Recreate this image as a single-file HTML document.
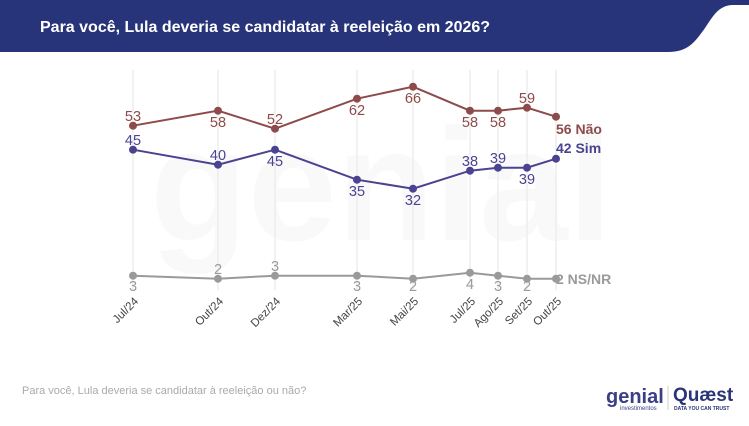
<!DOCTYPE html>
<html><head><meta charset="utf-8"><style>
body{margin:0;width:749px;height:421px;background:#fff;overflow:hidden;font-family:"Liberation Sans",sans-serif}
</style></head><body>
<svg width="749" height="421" xmlns="http://www.w3.org/2000/svg" font-family="Liberation Sans, sans-serif">
<path d="M0 0 H749 V5 H733 C718 5 712 18 705 28 C695 42 688 52 668 52 H0 Z" fill="#28347a"/>
<text x="40" y="32" fill="#fff" font-size="16" font-weight="bold">Para você, Lula deveria se candidatar à reeleição em 2026?</text>
<text x="150" y="240" font-size="160" font-weight="bold" fill="#f9f9f9">genial</text>
<g stroke="#e6e6e6" stroke-width="1">
<line x1="133" y1="70" x2="133" y2="290"/><line x1="218" y1="70" x2="218" y2="290"/><line x1="275" y1="70" x2="275" y2="290"/><line x1="357" y1="70" x2="357" y2="290"/><line x1="413" y1="70" x2="413" y2="290"/><line x1="470" y1="70" x2="470" y2="290"/><line x1="498" y1="70" x2="498" y2="290"/><line x1="527" y1="70" x2="527" y2="290"/><line x1="556" y1="70" x2="556" y2="290"/>
</g>
<g fill="none" stroke-width="2">
<polyline stroke="#8e4b4b" points="133,125.7 218,110.7 275,128.7 357,98.7 413,86.7 470,110.7 498,110.7 527,107.7 556,116.7"/>
<polyline stroke="#4a4391" points="133,149.7 218,164.7 275,149.7 357,179.7 413,188.7 470,170.7 498,167.7 527,167.7 556,158.7"/>
<polyline stroke="#9a9a9a" points="133,275.7 218,278.7 275,275.7 357,275.7 413,278.7 470,272.7 498,275.7 527,278.7 556,278.7"/>
</g>
<g fill="#8e4b4b"><circle cx="133" cy="125.7" r="4"/><circle cx="218" cy="110.7" r="4"/><circle cx="275" cy="128.7" r="4"/><circle cx="357" cy="98.7" r="4"/><circle cx="413" cy="86.7" r="4"/><circle cx="470" cy="110.7" r="4"/><circle cx="498" cy="110.7" r="4"/><circle cx="527" cy="107.7" r="4"/><circle cx="556" cy="116.7" r="4"/></g>
<g fill="#4a4391"><circle cx="133" cy="149.7" r="4"/><circle cx="218" cy="164.7" r="4"/><circle cx="275" cy="149.7" r="4"/><circle cx="357" cy="179.7" r="4"/><circle cx="413" cy="188.7" r="4"/><circle cx="470" cy="170.7" r="4"/><circle cx="498" cy="167.7" r="4"/><circle cx="527" cy="167.7" r="4"/><circle cx="556" cy="158.7" r="4"/></g>
<g fill="#9a9a9a"><circle cx="133" cy="275.7" r="4"/><circle cx="218" cy="278.7" r="4"/><circle cx="275" cy="275.7" r="4"/><circle cx="357" cy="275.7" r="4"/><circle cx="413" cy="278.7" r="4"/><circle cx="470" cy="272.7" r="4"/><circle cx="498" cy="275.7" r="4"/><circle cx="527" cy="278.7" r="4"/><circle cx="556" cy="278.7" r="4"/></g>
<g font-size="14.5" text-anchor="middle" fill="#8e4b4b">
<text x="133" y="121">53</text><text x="218" y="127">58</text><text x="275" y="124">52</text><text x="357" y="115">62</text><text x="413" y="103">66</text><text x="470" y="127">58</text><text x="498" y="127">58</text><text x="527" y="103">59</text>
</g>
<g font-size="14.5" text-anchor="middle" fill="#4a4391">
<text x="133" y="145">45</text><text x="218" y="160">40</text><text x="275" y="166">45</text><text x="357" y="196">35</text><text x="413" y="205">32</text><text x="470" y="166">38</text><text x="498" y="163">39</text><text x="527" y="184">39</text>
</g>
<g font-size="14.5" text-anchor="middle" fill="#9a9a9a">
<text x="133" y="291">3</text><text x="218" y="274">2</text><text x="275" y="271">3</text><text x="357" y="291">3</text><text x="413" y="291">2</text><text x="470" y="289">4</text><text x="498" y="291">3</text><text x="527" y="291">2</text>
</g>
<text x="556" y="134" font-size="14" font-weight="bold" fill="#8e4b4b">56 Não</text>
<text x="556" y="153" font-size="14" font-weight="bold" fill="#4a4391">42 Sim</text>
<text x="556" y="284" font-size="14" font-weight="bold" fill="#9a9a9a">2 NS/NR</text>
<g font-size="11.5" fill="#444" text-anchor="end">
<text transform="translate(139,302) rotate(-45)">Jul/24</text>
<text transform="translate(224,302) rotate(-45)">Out/24</text>
<text transform="translate(281,302) rotate(-45)">Dez/24</text>
<text transform="translate(363,302) rotate(-45)">Mar/25</text>
<text transform="translate(419,302) rotate(-45)">Mai/25</text>
<text transform="translate(476,302) rotate(-45)">Jul/25</text>
<text transform="translate(504,302) rotate(-45)">Ago/25</text>
<text transform="translate(533,302) rotate(-45)">Set/25</text>
<text transform="translate(562,302) rotate(-45)">Out/25</text>
</g>
<text x="22" y="394" font-size="11" fill="#aaa">Para você, Lula deveria se candidatar à reeleição ou não?</text>
<text x="606" y="403" font-size="20" font-weight="bold" fill="#3a3f86">genial</text>
<text x="620" y="410" font-size="6" fill="#3a3f86">investimentos</text>
<line x1="668" y1="386" x2="668" y2="410" stroke="#ccc"/>
<text x="673" y="401" font-size="19" font-weight="bold" fill="#2a3478">Quæst</text>
<text x="674" y="410" font-size="5" font-weight="bold" fill="#2a3478">DATA YOU CAN TRUST</text>
</svg>
</body></html>
